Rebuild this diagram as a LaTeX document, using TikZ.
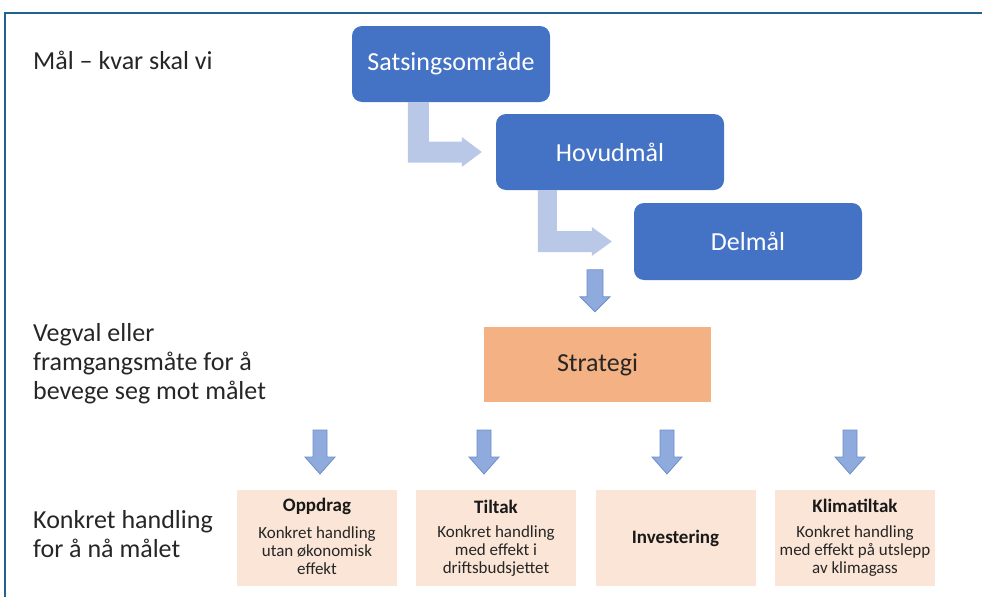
\documentclass[tikz,border=0pt]{standalone}
\usepackage{fontspec}
\setmainfont{Carlito}
\usetikzlibrary{calc}
\definecolor{framecol}{HTML}{1F6391}
\definecolor{bluebox}{HTML}{4472C4}
\definecolor{lightarr}{HTML}{B8C8E6}
\definecolor{dnfill}{HTML}{8FAADC}
\definecolor{dnline}{HTML}{6F8FCB}
\definecolor{stratcol}{HTML}{F4B183}
\definecolor{peach}{HTML}{FBE5D6}
\definecolor{txt}{HTML}{262626}
\tikzset{
  goalbox/.style={fill=bluebox, rounded corners=10pt, text=white, inner sep=0pt,
    minimum width=228pt, minimum height=76pt, font=\fontsize{26}{29}\selectfont},
  stratbox/.style={fill=stratcol, text=txt, inner sep=0pt,
    minimum width=227pt, minimum height=75pt, font=\fontsize{26}{29}\selectfont},
  actbox/.style={fill=peach, inner sep=0pt, minimum width=160pt, minimum height=96pt},
  acttitle/.style={text=black!90, font=\bfseries\fontsize{19}{21}\selectfont, inner sep=0pt},
  actbody/.style={text=txt, align=center, font=\fontsize{17}{18}\selectfont, inner sep=0pt},
  sidelabel/.style={text=txt, align=left, anchor=west, inner sep=0pt,
    font=\fontsize{26}{29}\selectfont},
  bent/.style={fill=lightarr},
  pics/dnarrow/.style={code={
    \filldraw[fill=dnfill, draw=dnline, line width=0.8pt, line join=miter]
      (-7,0) -- (7,0) -- (7,27) -- (15,27) -- (0,44) -- (-15,27) -- (-7,27) -- cycle;}}
}
\begin{document}
\begin{tikzpicture}[x=1pt,y=-1pt]
\useasboundingbox (0,0) rectangle (982,597);
\draw[framecol, line width=2pt] (982,13) -- (5,13) -- (5,597);

% side labels
\node[sidelabel] (l1) at (33,60) {Mål – kvar skal vi};
\node[sidelabel] (l2) at (33,364) {Vegval eller\\framgangsmåte for å\\bevege seg mot målet};
\node[sidelabel] (l3) at (33,534) {Konkret handling\\for å nå målet};

% goal boxes
\node[goalbox, minimum width=198pt] (sats) at (451,64) {Satsingsområde};
\node[goalbox] (hov) at (610,152) {Hovudmål};
\node[goalbox, minimum height=77pt] (del) at (748,241.5) {Delmål};

% bent arrows
\begin{scope}[shift={($(hov.west)+(-14,0)$)}]
\fill[bent] (-74,-50) -- (-53,-50) -- (-53,-10.5) -- (-20,-10.5) -- (-20,-15) -- (0,0)
  -- (-20,15) -- (-20,10.5) -- (-74,10.5) -- cycle;
\end{scope}
\begin{scope}[shift={($(del.west)+(-22,0)$)}]
\fill[bent] (-74,-51.5) -- (-55,-51.5) -- (-55,-10.5) -- (-20,-10.5) -- (-20,-14.5) -- (0,0)
  -- (-20,14.5) -- (-20,10.5) -- (-74,10.5) -- cycle;
\end{scope}

% strategy
\node[stratbox] (str) at (597.5,364.5) {Strategi};
\filldraw[fill=dnfill, draw=dnline, line width=0.8pt, line join=miter]
  ($(str.north)+(-2.5,-57)$) ++(-8,0) -- ++(16,0) -- ++(0,27) -- ++(7,0) -- ++(-15,15)
  -- ++(-15,-15) -- ++(7,0) -- cycle;

% action boxes
\node[actbox] (op) at (317,538) {};
\node[actbox] (ti) at (496,538) {};
\node[actbox] (inv) at (675.5,538) {};
\node[actbox] (kl) at (855,538) {};

\node[acttitle] (opt) at ($(op.north)+(0,17)$) {Oppdrag};
\node[actbody] (opb) at ($(op.center)+(0,13)$) {Konkret handling\\utan økonomisk\\effekt};
\node[acttitle] (tit) at ($(ti.north)+(0,17)$) {Tiltak};
\node[actbody] (tib) at ($(ti.center)+(0,13)$) {Konkret handling\\med effekt i\\driftsbudsjettet};
\node[acttitle] (invt) at (inv.center) {Investering};
\node[acttitle] (klt) at ($(kl.north)+(0,16)$) {Klimatiltak};
\node[actbody] (klb) at ($(kl.center)+(0,13)$) {Konkret handling\\med effekt på utslepp\\av klimagass};

% down arrows
\pic at (320,430) {dnarrow};
\pic at (484,430) {dnarrow};
\pic at (667,430) {dnarrow};
\pic at (850,430) {dnarrow};
\end{tikzpicture}
\end{document}
